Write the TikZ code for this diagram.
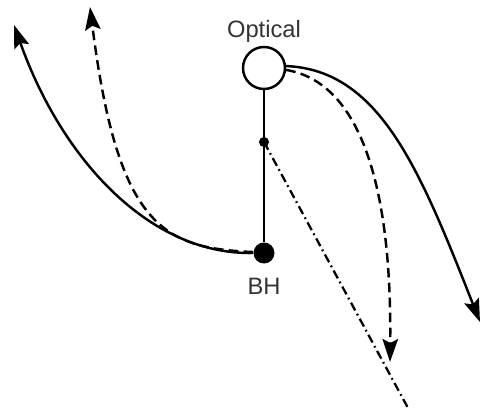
\documentclass[tikz,border=0pt]{standalone}
\usepackage{fontspec}
\setmainfont{Liberation Sans}
\usetikzlibrary{arrows.meta}

\tikzset{
  optic/.style={circle, draw, line width=1.4pt, minimum size=0.84cm, inner sep=0pt},
  bhdot/.style={circle, fill, minimum size=0.42cm, inner sep=0pt},
  middot/.style={circle, fill, minimum size=0.2cm, inner sep=0pt},
  lbl/.style={text=black!80, font=\fontsize{13.5}{16}\selectfont},
  orbit/.style={line width=1.4pt},
  dashorbit/.style={line width=1.4pt, dash pattern=on 5.5pt off 3pt},
  dashdotline/.style={line width=1.3pt, dash pattern=on 5pt off 2.2pt on 1pt off 2.2pt}
}

\begin{document}
\begin{tikzpicture}[x=0.02cm, y=-0.02cm, >={Stealth[length=0.46cm, width=0.31cm, inset=0.08cm]}]
    \useasboundingbox (0,0) rectangle (483,412);
    % nodes
    \node[optic] (opt) at (264,68) {};
    \node[lbl] (optlbl) at (264,31) {Optical};
    \node[bhdot] (bh) at (264,253) {};
    \node[lbl] (bhlbl) at (264,286) {BH};
    \node[middot] (mid) at (264,142) {};
    % free ends
    \coordinate (tipL) at (14,25);
    \coordinate (tipLd) at (90,7);
    \coordinate (tipR) at (480,322);
    \coordinate (tipRd) at (390,362);
    \coordinate (lineend) at (408,408);
    % connectors
    \draw[orbit] (opt) -- (bh);
    \draw[dashdotline] (mid.center) -- (lineend);
    \draw[orbit, ->] (bh.west) .. controls (150,255) and (62,160) .. (tipL);
    \draw[dashorbit, ->] (bh.175) .. controls (165,248) and (118,230) .. (tipLd);
    \draw[orbit, ->] (opt.5) .. controls (380,70) and (420,170) .. (tipR);
    \draw[dashorbit, ->] (opt.-5) .. controls (358,82) and (392,180) .. (tipRd);
\end{tikzpicture}
\end{document}
